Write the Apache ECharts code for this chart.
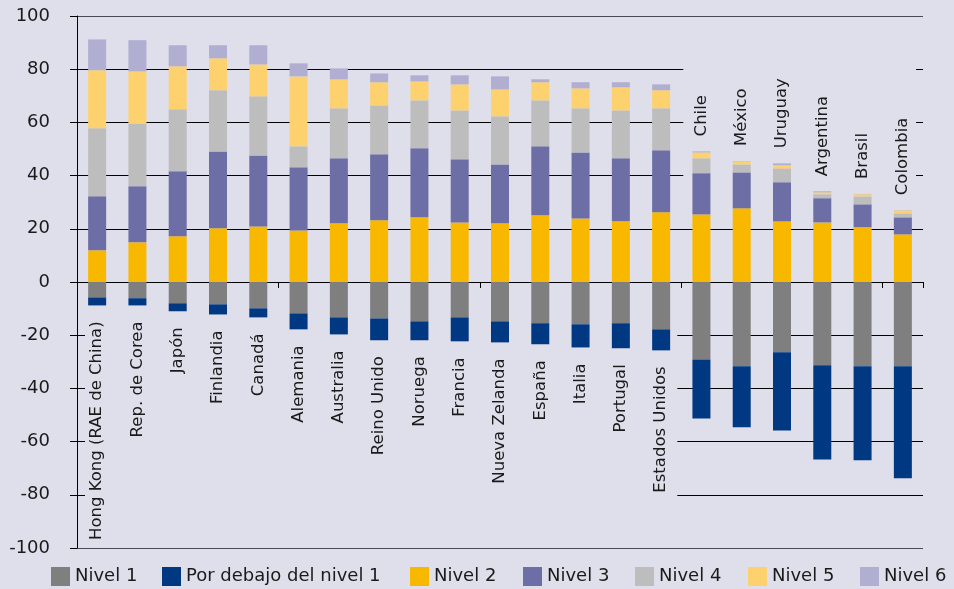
<!DOCTYPE html>
<html>
<head>
<meta charset="utf-8">
<script src="https://cdn.jsdelivr.net/npm/echarts@6/dist/echarts.min.js"></script>
<style>
  html, body { margin: 0; padding: 0; background: #dfdeeb; }
  #main { width: 954px; height: 589px; }
</style>
</head>
<body>
<div id="main"></div>
<script>
// países, ordenados como en el gráfico
var countries = ['Hong Kong (RAE de China)', 'Rep. de Corea', 'Japón', 'Finlandia', 'Canadá', 'Alemania',
  'Australia', 'Reino Unido', 'Noruega', 'Francia', 'Nueva Zelanda', 'España', 'Italia', 'Portugal',
  'Estados Unidos', 'Chile', 'México', 'Uruguay', 'Argentina', 'Brasil', 'Colombia'];
// a partir de este índice la etiqueta va arriba de la barra
var splitIdx = 15;

var nivel1 = [-5.8, -6.1, -8.0, -8.4, -9.9, -11.8, -13.3, -13.7, -14.8, -13.3, -14.8, -15.5, -15.9, -15.5, -17.8, -29.1, -31.7, -26.4, -31.3, -31.7, -31.7];
var debajo = [-3.0, -2.7, -3.0, -3.8, -3.4, -6.0, -6.4, -8.2, -7.1, -9.0, -7.9, -7.9, -8.7, -9.4, -7.9, -22.2, -22.9, -29.4, -35.4, -35.3, -42.1];
var nivel2 = [11.9, 14.9, 17.2, 20.2, 20.9, 19.4, 22.1, 23.2, 24.3, 22.4, 22.1, 25.1, 23.9, 22.8, 26.2, 25.4, 27.7, 22.8, 22.4, 20.6, 17.9];
var nivel3 = [20.3, 21.1, 24.4, 28.9, 26.7, 23.7, 24.4, 24.8, 26.0, 23.7, 22.1, 25.9, 24.8, 23.7, 23.3, 15.5, 13.5, 14.7, 9.1, 8.6, 6.4];
var nivel4 = [25.6, 23.6, 23.3, 23.0, 22.2, 7.9, 18.8, 18.4, 18.0, 18.4, 18.1, 17.3, 16.6, 18.0, 15.8, 5.6, 3.0, 5.2, 1.5, 3.0, 1.5];
var nivel5 = [21.8, 19.6, 16.2, 12.0, 12.0, 26.3, 10.9, 8.7, 7.1, 9.8, 10.1, 6.8, 7.5, 8.7, 6.8, 2.2, 1.2, 1.2, 0.7, 0.8, 1.1];
var nivel6 = [11.6, 11.7, 7.9, 4.9, 7.2, 4.9, 4.1, 3.3, 2.3, 3.4, 4.9, 1.1, 2.3, 1.9, 2.2, 0.4, 0.1, 0.7, 0.4, 0.1, 0.1];

var legendNames = ['Nivel 1', 'Por debajo del nivel 1', 'Nivel 2', 'Nivel 3', 'Nivel 4', 'Nivel 5', 'Nivel 6'];
var legendLeft = [51, 162, 410, 523, 635, 748, 860];

var bg = '#dfdeeb';
var font = 'DejaVu Sans';

function bar(name, data, color) {
  return {
    name: name,
    type: 'bar',
    stack: 'total',
    barWidth: 18,
    data: data,
    itemStyle: { color: color },
    emphasis: { disabled: true }
  };
}

var sDebajo = bar('Por debajo del nivel 1', debajo, '#003882');
sDebajo.label = {
  show: true, position: 'bottom', rotate: 90, distance: 16,
  align: 'right', verticalAlign: 'middle',
  fontFamily: font, fontSize: 16.5, color: '#1a1a1a',
  formatter: function (p) { return p.dataIndex < splitIdx ? p.name : ''; }
};
var sN6 = bar('Nivel 6', nivel6, '#b0aed1');
sN6.label = {
  show: true, position: 'top', rotate: 90, distance: 15,
  align: 'left', verticalAlign: 'middle',
  fontFamily: font, fontSize: 16.5, color: '#1a1a1a',
  formatter: function (p) { return p.dataIndex >= splitIdx ? p.name : ''; }
};

// una leyenda por elemento para fijar cada posición
var legends = legendNames.map(function (n, i) {
  return {
    left: legendLeft[i], top: 567, padding: 0, itemWidth: 19, itemHeight: 19,
    icon: 'rect',
    textStyle: { fontFamily: font, fontSize: 18, color: '#1a1a1a' },
    data: [n]
  };
});

var chart = echarts.init(document.getElementById('main'));
var gridColors = ['#4a4a52', '#000', '#000', '#000', '#000', '#000', '#000', '#000', '#000', '#000', '#4a4a52'];

chart.setOption({
  backgroundColor: bg,
  animation: false,
  grid: { left: 77, right: 31, top: 16, bottom: 41, containLabel: false },
  legend: legends,
  xAxis: {
    type: 'category',
    data: countries,
    axisLine: { onZero: true, lineStyle: { color: '#000', width: 1 } },
    axisTick: { show: true, length: 6, lineStyle: { color: '#000' } },
    axisLabel: { show: false }
  },
  yAxis: {
    type: 'value',
    min: -100, max: 100, interval: 20,
    axisLine: { show: true, lineStyle: { color: '#000' } },
    axisTick: { show: true, length: 7, lineStyle: { color: '#000' } },
    axisLabel: { margin: 27, fontFamily: font, fontSize: 18, color: '#1a1a1a' },
    splitLine: { lineStyle: { color: gridColors, width: 1 } }
  },
  series: [
    bar('Nivel 1', nivel1, '#7f7f7f'),
    sDebajo,
    bar('Nivel 2', nivel2, '#f9b800'),
    bar('Nivel 3', nivel3, '#6d6ea6'),
    bar('Nivel 4', nivel4, '#bdbdbd'),
    bar('Nivel 5', nivel5, '#fdd26e'),
    sN6
  ]
});

// zonas de las etiquetas: tapan la cuadrícula como en el original
var x0 = chart.convertToPixel({ xAxisIndex: 0 }, 0);
var x1 = chart.convertToPixel({ xAxisIndex: 0 }, countries.length - 1);
var step = (x1 - x0) / (countries.length - 1);
var axisX = x0 - step / 2;
var splitX = axisX + splitIdx * step;
var rightX = x1 + step / 2;
var yNegTop = chart.convertToPixel({ yAxisIndex: 0 }, -3);
var yNegBot = chart.convertToPixel({ yAxisIndex: 0 }, -99);
var yPosTop = chart.convertToPixel({ yAxisIndex: 0 }, 95);
var yPosBot = chart.convertToPixel({ yAxisIndex: 0 }, 28);

chart.setOption({
  graphic: [
    { type: 'rect', z: 1, silent: true,
      shape: { x: axisX + 8, y: yNegTop, width: splitX - axisX - 12, height: yNegBot - yNegTop },
      style: { fill: bg } },
    { type: 'rect', z: 1, silent: true,
      shape: { x: splitX + 2, y: yPosTop, width: rightX - splitX - 9, height: yPosBot - yPosTop },
      style: { fill: bg } }
  ]
});
</script>
</body>
</html>
